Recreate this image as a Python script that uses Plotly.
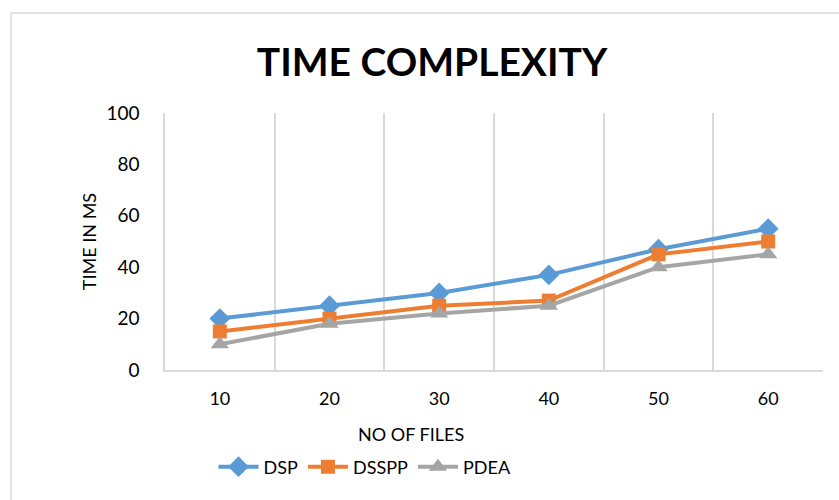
import plotly.graph_objects as go

categories = ["10", "20", "30", "40", "50", "60"]
dsp = [20, 25, 30, 37, 47, 55]
dsspp = [15, 20, 25, 27, 45, 50]
pdea = [10, 18, 22, 25, 40, 45]

FONT = "Lato, Carlito, Calibri, sans-serif"

fig = go.Figure()
series = [
    ("DSP", dsp, "#5B9BD5", "diamond", 16),
    ("DSSPP", dsspp, "#ED7D31", "square", 14),
    ("PDEA", pdea, "#A5A5A5", "triangle-up", 16),
]
for name, vals, color, sym, size in series:
    fig.add_trace(go.Scatter(
        x=categories, y=vals, name=name, mode="lines+markers",
        line=dict(color=color, width=4),
        marker=dict(symbol=sym, size=size, color=color, line=dict(width=0)),
    ))

W, H = 839, 500
L, R, T, B = 165, 16, 113, 130
pw = W - L - R
ph = H - T - B

fig.update_layout(
    width=W, height=H,
    margin=dict(l=L, r=R, t=T, b=B, autoexpand=False),
    paper_bgcolor="white", plot_bgcolor="white",
    font=dict(family=FONT, color="#000000", size=18),
    title=dict(text="<b>TIME COMPLEXITY</b>", x=432 / W, xanchor="center",
               y=1 - 62 / H, yanchor="middle",
               font=dict(family=FONT, size=39, color="#000000")),
    showlegend=True,
    legend=dict(orientation="h", x=(365 - L) / pw, xanchor="center",
                y=-(467 - (T + ph)) / ph, yanchor="middle",
                font=dict(family=FONT, size=18, color="#000000"),
                itemwidth=40, tracegroupgap=0),
    xaxis=dict(type="category", tickson="boundaries", showgrid=True,
               range=[-0.5, 5.5], automargin=False,
               gridcolor="#D9D9D9", gridwidth=1.5,
               showline=True, linecolor="#D9D9D9", linewidth=1.5,
               ticks="", tickfont=dict(family=FONT, size=18, color="#000000"),
               ticklabelstandoff=12, zeroline=False),
    yaxis=dict(range=[0, 100], dtick=20, showgrid=False, zeroline=False,
               showline=True, linecolor="#D9D9D9", linewidth=1.5,
               ticks="", automargin=False,
               tickfont=dict(family=FONT, size=19, color="#000000"),
               ticklabelstandoff=20,
               title=dict(text="TIME IN MS", standoff=5,
                          font=dict(family=FONT, size=18, color="#000000"))),
    annotations=[dict(text="NO OF FILES", xref="paper", yref="paper",
                      x=(411 - L) / pw, y=-(434 - (T + ph)) / ph,
                      xanchor="center", yanchor="middle", showarrow=False,
                      font=dict(family=FONT, size=18, color="#000000"))],
    shapes=[dict(type="rect", xref="paper", yref="paper",
                 x0=(11 - L) / pw, x1=(W + 20 - L) / pw,
                 y0=-(H + 20 - (T + ph)) / ph, y1=1 + (T - 13) / ph,
                 line=dict(color="#D9D9D9", width=1.5), layer="below")],
)

fig.write_html("out.html", config={"displayModeBar": False},
               post_script="document.body.style.margin='0';"
                           "document.body.style.overflow='hidden';")
